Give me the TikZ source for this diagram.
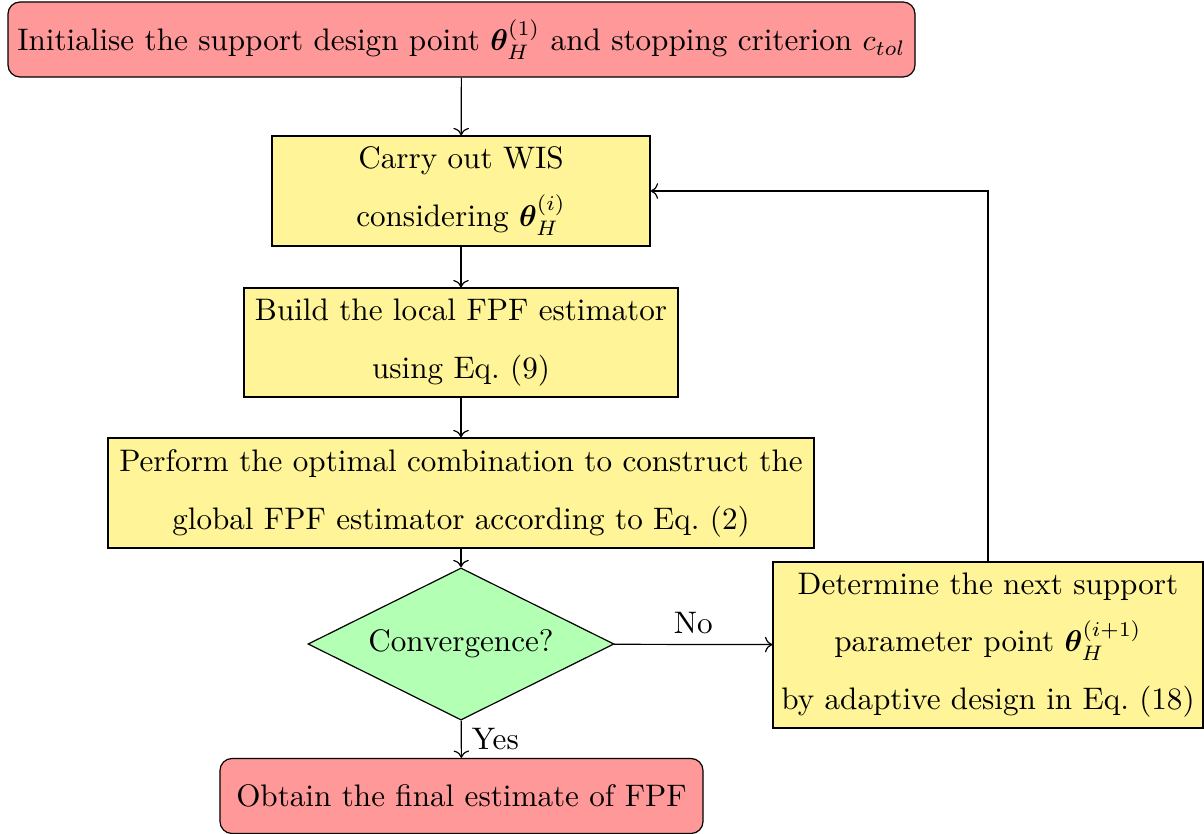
\documentclass[tikz,border=0pt]{standalone}
\usepackage{amsmath, amssymb, bm}
\usepackage{xcolor}
\usepackage{tikz}
\usetikzlibrary{arrows.meta,positioning,shapes.geometric}
\definecolor{myred}{RGB}{255,152,152}
\definecolor{myyellow}{RGB}{255,245,152}
\definecolor{mygreen}{RGB}{179,255,179}

\begin{document}
\begin{tikzpicture}[x=0.3333pt, y=-0.3333pt,
    every node/.style={font={\fontsize{10.38}{19.3}\selectfont}},
    startstop/.style={draw, rounded corners, fill=myred, align=center, inner sep=0pt},
    process/.style={draw, fill=myyellow, align=center, inner sep=0pt},
    decision/.style={draw, diamond, aspect=2, fill=mygreen, align=center, inner sep=0pt},
    arrow/.style={->}]
  \useasboundingbox (0,0) rectangle (1204,833);

  % Start and main chain
  \node[startstop, minimum width=302.3pt, minimum height=25pt] (init) at (461.5,39.5)
    {Initialise the support design point $\bm{\theta}_H^{(1)}$ and stopping criterion $c_{tol}$};
  \node[process, minimum width=126pt, minimum height=36.7pt] (wis) at (461,191)
    {Carry out WIS\\considering $\bm{\theta}_H^{(i)}$};
  \node[process, minimum width=144.7pt, minimum height=36.3pt] (local) at (461,342.5)
    {Build the local FPF estimator\\using Eq.~(9)};
  \node[process, minimum width=235.3pt, minimum height=36.7pt] (comb) at (461,493)
    {Perform the optimal combination to construct the\\global FPF estimator according to Eq.~(2)};
  \node[decision, minimum width=102pt, minimum height=50.7pt] (conv) at (461,644) {Convergence?};
  \node[process, minimum width=143.3pt, minimum height=55.3pt] (next) at (988,645)
    {Determine the next support\\parameter point $\bm{\theta}_H^{(i+1)}$\\by adaptive design in Eq.~(18)};
  \node[startstop, minimum width=161pt, minimum height=25pt] (final) at (461.5,796)
    {Obtain the final estimate of FPF};

  % Arrows
  \draw[arrow] (init) -- (wis);
  \draw[arrow] (wis) -- (local);
  \draw[arrow] (local) -- (comb);
  \draw[arrow] (comb) -- (conv);
  \draw[arrow] (conv) -- node[above] {No} (next);
  \draw[arrow] (conv) -- node[right] {Yes} (final);
  \draw[arrow] (next.north) |- (wis.east);
\end{tikzpicture}
\end{document}
